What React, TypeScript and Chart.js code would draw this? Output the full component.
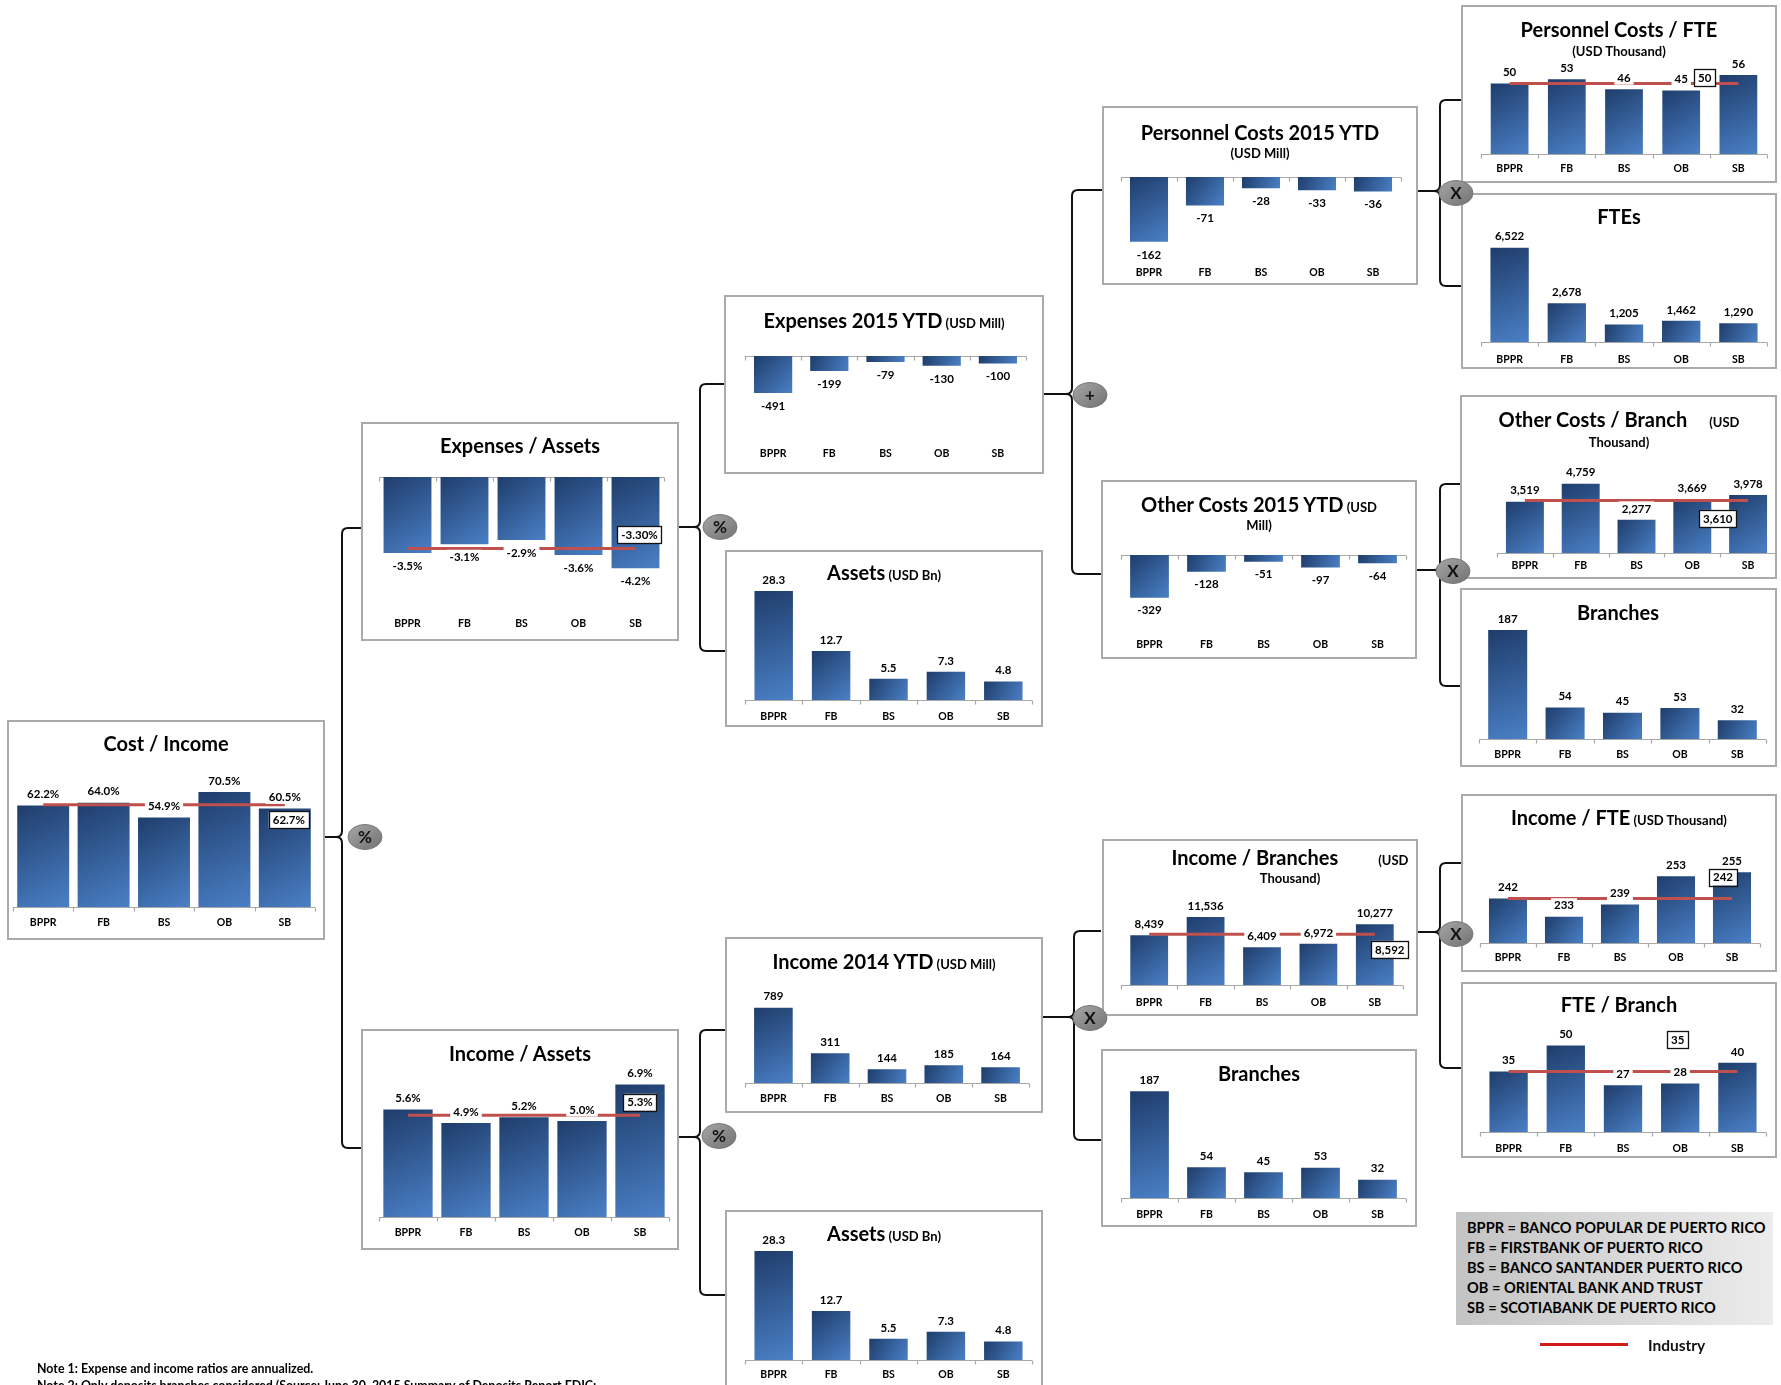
import React, { useEffect, useRef } from 'react';
import { Chart, registerables } from 'chart.js';

Chart.register(...registerables);

const FONT = 'Lato, "Open Sans", sans-serif';

// ---------- data ----------
const banks = ['BPPR', 'FB', 'BS', 'OB', 'SB'];
const bankNames = [
  'BANCO POPULAR DE PUERTO RICO',
  'FIRSTBANK OF PUERTO RICO',
  'BANCO SANTANDER PUERTO RICO',
  'ORIENTAL BANK AND TRUST',
  'SCOTIABANK DE PUERTO RICO',
];

const costIncome = [62.2, 64.0, 54.9, 70.5, 60.5];
const costIncomeIndustry = 62.7;
const expensesAssets = [-3.5, -3.1, -2.9, -3.6, -4.2];
const expensesAssetsIndustry = -3.3;
const incomeAssets = [5.6, 4.9, 5.2, 5.0, 6.9];
const incomeAssetsIndustry = 5.3;
const expenses2015 = [-491, -199, -79, -130, -100];
const assetsBn = [28.3, 12.7, 5.5, 7.3, 4.8];
const income2014 = [789, 311, 144, 185, 164];
const personnelCosts2015 = [-162, -71, -28, -33, -36];
const otherCosts2015 = [-329, -128, -51, -97, -64];
const incomePerBranch = [8439, 11536, 6409, 6972, 10277];
const incomePerBranchIndustry = 8592;
const branches = [187, 54, 45, 53, 32];
const personnelCostPerFte = [50, 53, 46, 45, 56];
const personnelCostPerFteIndustry = 50;
const ftes = [6522, 2678, 1205, 1462, 1290];
const otherCostPerBranch = [3519, 4759, 2277, 3669, 3978];
const otherCostPerBranchIndustry = 3610;
const incomePerFte = [242, 233, 239, 253, 255];
const incomePerFteIndustry = 242;
const ftePerBranch = [35, 50, 27, 28, 40];
const ftePerBranchIndustry = 35;

const note1 = 'Note 1: Expense and income ratios are annualized.';
const note2 = 'Note 2: Only deposits branches considered (Source: June 30, 2015 Summary of Deposits Report FDIC;';
const industryLabel = 'Industry';

// ---------- formatting ----------
const pct1 = (v: number) => v.toFixed(1) + '%';
const pct2 = (v: number) => v.toFixed(2) + '%';
const num0 = (v: number) => Math.round(v).toLocaleString('en-US');
const num1 = (v: number) => v.toFixed(1);

const RED = '#c0504d';
const T = 20; // title size
const S = 13; // small title size

type Part = { t: string; s: number; ml?: number };
type TitleLine = { y: number; parts: Part[] };
interface PanelSpec {
  key: string;
  box: [number, number, number, number];
  titleCx: number;
  title: TitleLine[];
  values: number[];
  fmt: (v: number) => string;
  industry?: number;
  industryFmt?: (v: number) => string;
  indBox?: { cat: number; dx: number; dy: number };
  plot: { l: number; r: number; zero: number; ppu: number; label: number; frac: number; base?: number };
}

const panels: PanelSpec[] = [
  { key: 'costIncome', box: [7, 720, 318, 220], titleCx: 159, title: [{ y: 23, parts: [{ t: 'Cost / Income', s: T }] }],
    values: costIncome, fmt: pct1, industry: costIncomeIndustry, industryFmt: pct1, indBox: { cat: 4, dx: 4, dy: 15 },
    plot: { l: 6, r: 308, zero: 187, ppu: 1.63, label: 202, frac: 0.86 } },
  { key: 'expAssets', box: [361, 422, 318, 219], titleCx: 159, title: [{ y: 23, parts: [{ t: 'Expenses / Assets', s: T }] }],
    values: expensesAssets, fmt: pct1, industry: expensesAssetsIndustry, industryFmt: pct2, indBox: { cat: 4, dx: 4, dy: -14 },
    plot: { l: 18, r: 303, zero: 55, ppu: 21.7, label: 201, frac: 0.84 } },
  { key: 'incAssets', box: [361, 1029, 318, 221], titleCx: 159, title: [{ y: 24, parts: [{ t: 'Income / Assets', s: T }] }],
    values: incomeAssets, fmt: pct1, industry: incomeAssetsIndustry, industryFmt: pct1, indBox: { cat: 4, dx: 0, dy: -13 },
    plot: { l: 18, r: 308, zero: 188, ppu: 19.2, label: 203, frac: 0.85 } },
  { key: 'exp2015', box: [724, 295, 320, 179], titleCx: 160, title: [{ y: 25, parts: [{ t: 'Expenses 2015 YTD', s: T }, { t: ' (USD Mill)', s: S }] }],
    values: expenses2015, fmt: num0, plot: { l: 21, r: 302, zero: 61, ppu: 0.0754, label: 158, frac: 0.68 } },
  { key: 'assets1', box: [725, 550, 318, 177], titleCx: 159, title: [{ y: 22, parts: [{ t: 'Assets', s: T }, { t: ' (USD Bn)', s: S }] }],
    values: assetsBn, fmt: num1, plot: { l: 20, r: 307, zero: 150, ppu: 3.855, label: 166, frac: 0.67 } },
  { key: 'inc2014', box: [725, 937, 318, 176], titleCx: 159, title: [{ y: 24, parts: [{ t: 'Income 2014 YTD', s: T }, { t: ' (USD Mill)', s: S }] }],
    values: income2014, fmt: num0, plot: { l: 20, r: 304, zero: 146, ppu: 0.0955, label: 161, frac: 0.68 } },
  { key: 'assets2', box: [725, 1210, 318, 177], titleCx: 159, title: [{ y: 23, parts: [{ t: 'Assets', s: T }, { t: ' (USD Bn)', s: S }] }],
    values: assetsBn, fmt: num1, plot: { l: 20, r: 307, zero: 150, ppu: 3.855, label: 164, frac: 0.67 } },
  { key: 'pc2015', box: [1102, 106, 316, 179], titleCx: 158, title: [{ y: 26, parts: [{ t: 'Personnel Costs 2015 YTD', s: T }] }, { y: 47, parts: [{ t: '(USD Mill)', s: S }] }],
    values: personnelCosts2015, fmt: num0, plot: { l: 19, r: 299, zero: 71, ppu: 0.4, label: 166, frac: 0.68 } },
  { key: 'oc2015', box: [1101, 480, 316, 179], titleCx: 158, title: [{ y: 24, parts: [{ t: 'Other Costs 2015 YTD', s: T }, { t: ' (USD', s: S }] }, { y: 45, parts: [{ t: 'Mill)', s: S }] }],
    values: otherCosts2015, fmt: num0, plot: { l: 20, r: 305, zero: 75, ppu: 0.13, label: 164, frac: 0.68 } },
  { key: 'incBranch', box: [1102, 839, 316, 177], titleCx: 188, title: [{ y: 18, parts: [{ t: 'Income / Branches', s: T }, { t: '(USD', s: S, ml: 40 }] }, { y: 39, parts: [{ t: 'Thousand)', s: S }] }],
    values: incomePerBranch, fmt: num0, industry: incomePerBranchIndustry, industryFmt: num0, indBox: { cat: 4, dx: 15, dy: 15 },
    plot: { l: 19, r: 301, zero: 146, ppu: 0.0059, label: 163, frac: 0.67 } },
  { key: 'branches1', box: [1101, 1049, 316, 178], titleCx: 158, title: [{ y: 24, parts: [{ t: 'Branches', s: T }] }],
    values: branches, fmt: num0, plot: { l: 20, r: 305, zero: 149, ppu: 0.571, label: 165, frac: 0.68 } },
  { key: 'pcFte', box: [1461, 5, 316, 178], titleCx: 158, title: [{ y: 24, parts: [{ t: 'Personnel Costs / FTE', s: T }] }, { y: 46, parts: [{ t: '(USD Thousand)', s: S }] }],
    values: personnelCostPerFte, fmt: num0, industry: personnelCostPerFteIndustry, industryFmt: num0, indBox: { cat: 3, dx: 23.5, dy: -6 },
    plot: { l: 20, r: 306, zero: 149, ppu: 1.41, label: 163, frac: 0.66 } },
  { key: 'ftes', box: [1461, 193, 316, 176], titleCx: 158, title: [{ y: 23, parts: [{ t: 'FTEs', s: T }] }],
    values: ftes, fmt: num0, plot: { l: 20, r: 306, zero: 149, ppu: 0.01445, label: 166, frac: 0.67 } },
  { key: 'ocBranch', box: [1460, 395, 317, 184], titleCx: 159, title: [{ y: 24, parts: [{ t: 'Other Costs / Branch', s: T }, { t: '(USD', s: S, ml: 22 }] }, { y: 47, parts: [{ t: 'Thousand)', s: S }] }],
    values: otherCostPerBranch, fmt: num0, industry: otherCostPerBranchIndustry, industryFmt: num0, indBox: { cat: 3, dx: 25.5, dy: 18 },
    plot: { l: 37, r: 316, zero: 158, ppu: 0.01457, label: 170, frac: 0.68 } },
  { key: 'branches2', box: [1460, 588, 317, 179], titleCx: 158, title: [{ y: 24, parts: [{ t: 'Branches', s: T }] }],
    values: branches, fmt: num0, plot: { l: 19, r: 306, zero: 151, ppu: 0.583, label: 166, frac: 0.68 } },
  { key: 'incFte', box: [1461, 794, 316, 178], titleCx: 158, title: [{ y: 23, parts: [{ t: 'Income / FTE', s: T }, { t: ' (USD Thousand)', s: S }] }],
    values: incomePerFte, fmt: num0, industry: incomePerFteIndustry, industryFmt: num0, indBox: { cat: 4, dx: -9, dy: -21.5 },
    plot: { l: 19, r: 299, zero: 149, ppu: 2.02, base: 220, label: 163, frac: 0.68 } },
  { key: 'fteBranch', box: [1461, 982, 316, 176], titleCx: 158, title: [{ y: 22, parts: [{ t: 'FTE / Branch', s: T }] }],
    values: ftePerBranch, fmt: num0, industry: ftePerBranchIndustry, industryFmt: num0, indBox: { cat: 3, dx: -2.5, dy: -32 },
    plot: { l: 19, r: 305, zero: 150, ppu: 1.73, label: 166, frac: 0.67 } },
];

// connectors: brace from source panel to two target panels
const braces = [
  { xs: 325, ym: 837, x: 342, yt: 528, yb: 1148, xt: 361 },
  { xs: 679, ym: 527, x: 700, yt: 384, yb: 651, xt: 725 },
  { xs: 679, ym: 1137, x: 700, yt: 1030, yb: 1295, xt: 725 },
  { xs: 1044, ym: 394, x: 1072, yt: 190, yb: 574, xt: 1102 },
  { xs: 1043, ym: 1017, x: 1074, yt: 931, yb: 1140, xt: 1101 },
  { xs: 1418, ym: 191, x: 1440, yt: 100, yb: 286, xt: 1461 },
  { xs: 1417, ym: 570, x: 1440, yt: 484, yb: 686, xt: 1460 },
  { xs: 1418, ym: 932, x: 1440, yt: 863, yb: 1068, xt: 1461 },
];
const operators = [
  { cx: 365, cy: 837, t: '%' },
  { cx: 720, cy: 527, t: '%' },
  { cx: 719, cy: 1136, t: '%' },
  { cx: 1090, cy: 395, t: '+' },
  { cx: 1090, cy: 1018, t: 'X' },
  { cx: 1456, cy: 193, t: 'X' },
  { cx: 1453, cy: 571, t: 'X' },
  { cx: 1456, cy: 934, t: 'X' },
];

function bracePath(b: any) {
  const r = 6;
  return `M ${b.xt} ${b.yt} L ${b.x + r} ${b.yt} Q ${b.x} ${b.yt} ${b.x} ${b.yt + r} L ${b.x} ${b.ym - r} Q ${b.x} ${b.ym} ${b.x - r} ${b.ym} Q ${b.x} ${b.ym} ${b.x} ${b.ym + r} L ${b.x} ${b.yb - r} Q ${b.x} ${b.yb} ${b.x + r} ${b.yb} L ${b.xt} ${b.yb} M ${b.xs} ${b.ym} L ${b.x - r} ${b.ym}`;
}

function BarPanel({ spec }: { spec: PanelSpec }) {
  const ref = useRef<HTMLCanvasElement>(null);
  const [bx, by, w, h] = spec.box;
  useEffect(() => {
    const canvas = ref.current!;
    const p = spec.plot;
    const neg = spec.values.every((v) => v <= 0);
    const base = p.base ?? 0;
    let chartTop: number, chartBottom: number, min: number, max: number;
    if (neg) {
      chartTop = p.zero;
      chartBottom = p.label - 14;
      max = 0;
      min = -(chartBottom - chartTop) / p.ppu;
    } else {
      chartBottom = p.zero;
      chartTop = 28;
      min = base;
      max = base + (chartBottom - chartTop) / p.ppu;
    }
    const axisH = h - chartBottom;
    const n = banks.length;

    const barFill = (c: any) => {
      const chart = c.chart;
      if (!chart.chartArea || c.type !== 'data') return '#3a6aa8';
      const xs = chart.scales.x;
      const ys = chart.scales.y;
      const cx = xs.getPixelForValue(c.dataIndex);
      const half = ((chart.chartArea.right - chart.chartArea.left) / n) * p.frac / 2;
      const y1 = ys.getPixelForValue(c.raw);
      const y0 = ys.getBasePixel();
      const top = Math.min(y0, y1);
      const bot = Math.max(y0, y1);
      const g = chart.ctx.createLinearGradient(cx - half, top, cx + half, Math.max(bot, top + 1));
      g.addColorStop(0, '#1f3d6b');
      g.addColorStop(1, '#4a80c6');
      return g;
    };

    const axisPlugin = {
      id: 'zeroAxis',
      beforeDatasetsDraw(chart: any) {
        const { ctx, chartArea } = chart;
        const ys = chart.scales.y;
        const yy = Math.round(ys.getBasePixel()) + 0.5;
        const step = (chartArea.right - chartArea.left) / n;
        ctx.save();
        ctx.strokeStyle = '#a8a8a8';
        ctx.lineWidth = 1.2;
        ctx.beginPath();
        ctx.moveTo(chartArea.left, yy);
        ctx.lineTo(chartArea.right, yy);
        for (let i = 0; i <= n; i++) {
          const x = Math.round(chartArea.left + i * step) + 0.5;
          ctx.moveTo(x, yy);
          ctx.lineTo(x, yy + 4);
        }
        ctx.stroke();
        ctx.restore();
      },
    };

    const labelPlugin = {
      id: 'valueLabels',
      afterDatasetsDraw(chart: any) {
        const ctx = chart.ctx;
        const di = chart.data.datasets.findIndex((d: any) => d.type === 'bar');
        const meta = chart.getDatasetMeta(di);
        ctx.save();
        ctx.font = `bold 11.5px ${FONT}`;
        ctx.textAlign = 'center';
        ctx.textBaseline = 'middle';
        meta.data.forEach((el: any, i: number) => {
          const v = spec.values[i];
          const t = spec.fmt(v);
          const up = v >= base && !neg;
          const y = up ? el.y - 11.5 : el.y + 12.5;
          const tw = ctx.measureText(t).width;
          ctx.fillStyle = '#fff';
          ctx.fillRect(el.x - tw / 2 - 3, y - 7, tw + 6, 14);
          ctx.fillStyle = '#000';
          ctx.fillText(t, el.x, y + 0.5);
        });
        if (spec.industry !== undefined && spec.indBox && spec.industryFmt) {
          const xs = chart.scales.x;
          const ys = chart.scales.y;
          const cx = xs.getPixelForValue(spec.indBox.cat) + spec.indBox.dx;
          const cy = ys.getPixelForValue(spec.industry) + spec.indBox.dy;
          const t = spec.industryFmt(spec.industry);
          const tw = ctx.measureText(t).width;
          const bw = tw + 8;
          const bh = 17;
          ctx.fillStyle = '#fff';
          ctx.fillRect(cx - bw / 2, cy - bh / 2, bw, bh);
          ctx.strokeStyle = '#111';
          ctx.lineWidth = 1.3;
          ctx.strokeRect(Math.round(cx - bw / 2) + 0.5, Math.round(cy - bh / 2) + 0.5, Math.round(bw), bh);
          ctx.fillStyle = '#000';
          ctx.fillText(t, cx, cy + 0.5);
        }
        ctx.restore();
      },
    };

    const datasets: any[] = [];
    if (spec.industry !== undefined) {
      datasets.push({
        type: 'line',
        data: banks.map(() => spec.industry),
        borderColor: RED,
        borderWidth: 3,
        pointRadius: 0,
        fill: false,
        order: 0,
      });
    }
    datasets.push({
      type: 'bar',
      data: spec.values,
      backgroundColor: barFill,
      borderWidth: 0,
      barPercentage: p.frac,
      categoryPercentage: 1,
      order: 1,
    });

    const chart = new Chart(canvas, {
      type: 'bar',
      data: { labels: banks, datasets },
      options: {
        responsive: false,
        maintainAspectRatio: false,
        animation: false,
        events: [],
        devicePixelRatio: 1,
        layout: { padding: { left: p.l, right: w - p.r, top: chartTop, bottom: 0 } },
        plugins: { legend: { display: false }, title: { display: false }, tooltip: { enabled: false } },
        scales: {
          x: {
            grid: { display: false, drawTicks: false },
            border: { display: false },
            ticks: {
              font: { family: FONT, size: 10.5, weight: 'bold' },
              color: '#000',
              padding: p.label - chartBottom - 6,
              maxRotation: 0,
              autoSkip: false,
            },
            afterFit: (s: any) => {
              s.height = axisH;
            },
          },
          y: { display: false, min, max },
        },
      } as any,
      plugins: [axisPlugin, labelPlugin],
    } as any);
    return () => chart.destroy();
  }, []);

  return (
    <div style={{ position: 'absolute', left: bx, top: by, width: w, height: h }}>
      <div style={{ position: 'absolute', left: 0, top: 0, width: w, height: h, boxSizing: 'border-box', border: '2px solid #aaaaaa', background: '#fff' }} />
      <canvas ref={ref} width={w} height={h} style={{ position: 'absolute', left: 0, top: 0, width: w, height: h }} />
      {spec.title.map((ln, i) => (
        <div
          key={i}
          style={{
            position: 'absolute', left: spec.titleCx - 200, width: 400, top: ln.y - 14, height: 28,
            lineHeight: '28px', textAlign: 'center', whiteSpace: 'pre', fontWeight: 700,
            fontSize: ln.parts[0].s, color: '#000', fontFamily: FONT,
          }}
        >
          {ln.parts.map((pt, j) => (
            <span key={j} style={{ fontSize: pt.s, marginLeft: pt.ml ?? 0 }}>{pt.t}</span>
          ))}
        </div>
      ))}
    </div>
  );
}

export default function App() {
  return (
    <div style={{ position: 'absolute', left: 0, top: 0, width: 1781, height: 1385, overflow: 'hidden', background: '#fff', fontFamily: FONT }}>
      <svg width={1781} height={1385} style={{ position: 'absolute', left: 0, top: 0 }}>
        {braces.map((b, i) => (
          <path key={i} d={bracePath(b)} fill="none" stroke="#111" strokeWidth={2} />
        ))}
      </svg>
      {panels.map((p) => (
        <BarPanel key={p.key} spec={p} />
      ))}
      <svg width={1781} height={1385} style={{ position: 'absolute', left: 0, top: 0, pointerEvents: 'none' }}>
        <defs>
          <linearGradient id="opg" x1="0" y1="0" x2="1" y2="1">
            <stop offset="0" stopColor="#a6a6a6" />
            <stop offset="1" stopColor="#727272" />
          </linearGradient>
        </defs>
        {operators.map((o, i) => (
          <g key={i}>
            <ellipse cx={o.cx} cy={o.cy} rx={17} ry={12.5} fill="url(#opg)" stroke="#777" strokeWidth={1} />
            <text x={o.cx} y={o.cy + 6} textAnchor="middle" fontSize={17} fontWeight={700} fontFamily={FONT} fill="#111">{o.t}</text>
          </g>
        ))}
      </svg>
      <div style={{ position: 'absolute', left: 1456, top: 1212, width: 317, height: 113, boxSizing: 'border-box', paddingLeft: 11, paddingTop: 6, background: 'linear-gradient(to right, #c3c3c3, #ececec)' }}>
        {banks.map((b, i) => (
          <div key={b} style={{ height: 20, lineHeight: '20px', fontSize: 14.6, fontWeight: 700, color: '#000', whiteSpace: 'nowrap' }}>
            {b} = {bankNames[i]}
          </div>
        ))}
      </div>
      <div style={{ position: 'absolute', left: 1540, top: 1342.5, width: 88, height: 3, background: '#d11a1a' }} />
      <div style={{ position: 'absolute', left: 1648, top: 1335, height: 20, lineHeight: '20px', fontSize: 15.5, fontWeight: 700, color: '#111' }}>{industryLabel}</div>
      <div style={{ position: 'absolute', left: 37, top: 1361, height: 16, lineHeight: '16px', fontSize: 12.4, fontWeight: 700, color: '#000', whiteSpace: 'nowrap' }}>{note1}</div>
      <div style={{ position: 'absolute', left: 37, top: 1378, height: 16, lineHeight: '16px', fontSize: 12.4, fontWeight: 700, color: '#000', whiteSpace: 'nowrap' }}>{note2}</div>
    </div>
  );
}
